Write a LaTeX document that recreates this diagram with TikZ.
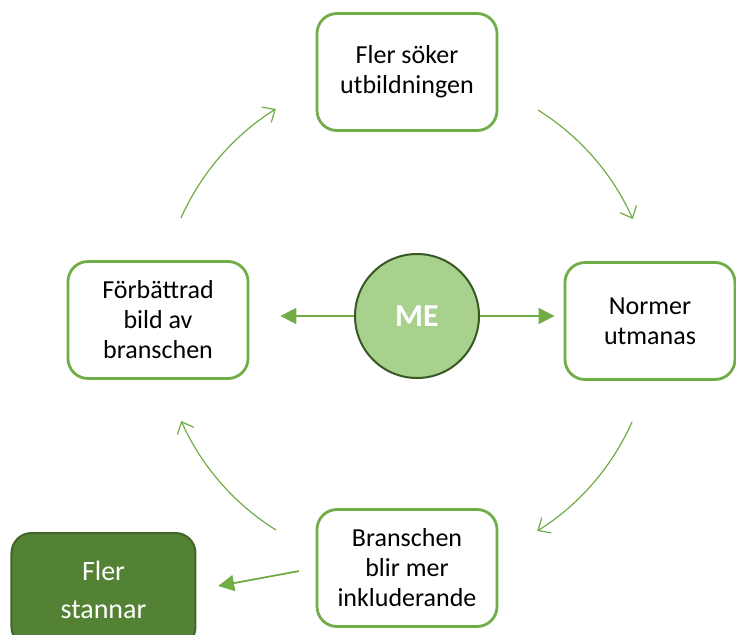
\documentclass[tikz,border=0pt]{standalone}
\usepackage{fontspec}
\setmainfont{Carlito}
\usetikzlibrary{arrows.meta}

\definecolor{leaf}{HTML}{70AD47}
\definecolor{moss}{HTML}{548235}
\definecolor{mossdark}{HTML}{41662A}
\definecolor{pale}{HTML}{A9D18E}
\definecolor{pine}{HTML}{385723}

\begin{document}
\begin{tikzpicture}[x=0.5pt, y=-0.5pt,
    stepbox/.style={draw=leaf, line width=1.4pt, rounded corners=10pt, fill=white,
        minimum width=90pt, minimum height=58.5pt, align=center,
        font=\fontsize{13}{15}\selectfont},
    cycle/.style={leaf, line width=0.6pt, -{Straight Barb[length=5pt, width=9pt]}},
    push/.style={leaf, line width=0.9pt, -{Triangle[length=8pt, width=8pt]}}]
  \useasboundingbox (0,0) rectangle (736,634);

  % the four steps
  \node[stepbox] (soker) at (407,72) {Fler söker\\utbildningen};
  \node[stepbox, minimum width=85pt] (normer) at (650,321) {Normer\\utmanas};
  \node[stepbox] (branschen) at (407,568) {Branschen\\blir mer\\inkluderande};
  \node[stepbox] (bild) at (158,320) {Förbättrad\\bild av\\branschen};

  % centre and result
  \node[circle, draw=pine, line width=1pt, fill=pale, minimum size=62pt, inner sep=0pt,
        text=white, font=\fontsize{16}{18}\selectfont\bfseries] (me) at (417,316) {ME};
  \node[draw=mossdark, line width=1pt, fill=moss, rounded corners=10pt, minimum width=92pt,
        minimum height=57pt, align=center, text=white,
        font=\fontsize{14}{19}\selectfont] (stannar) at (103.5,590) {Fler\\stannar};

  % arcs between the steps
  \coordinate (a1) at (538,110);
  \coordinate (a2) at (632,422);
  \coordinate (a3) at (276,530);
  \coordinate (a4) at (181,218);
  \draw[cycle] (a1) arc[start angle=58, end angle=24, radius=123.5pt];
  \draw[cycle] (a2) arc[start angle=-24, end angle=-58, radius=123.5pt];
  \draw[cycle] (a3) arc[start angle=-122, end angle=-156, radius=123.5pt];
  \draw[cycle] (a4) arc[start angle=156, end angle=122, radius=123.5pt];

  % straight arrows
  \draw[push, shorten >=15.5pt] (me.west) -- (me.west -| bild.east);
  \draw[push, shorten >=4.5pt] (me.east) -- (me.east -| normer.west);
  \draw[push, shorten <=8.5pt, shorten >=11pt] (branschen.west) -- (stannar.east);
\end{tikzpicture}
\end{document}
